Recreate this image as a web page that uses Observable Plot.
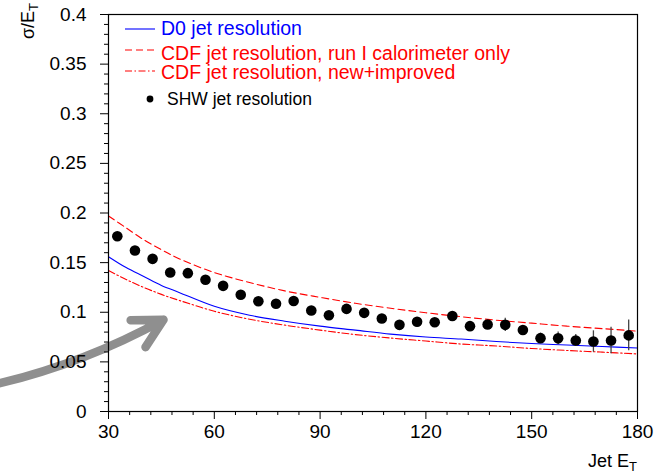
<!DOCTYPE html>
<html><head><meta charset="utf-8">
<script src="https://cdn.jsdelivr.net/npm/d3@7"></script>
<script src="https://cdn.jsdelivr.net/npm/@observablehq/plot@0.6"></script>
<style>html,body{margin:0;padding:0;background:#fff} svg{display:block}</style>
</head><body><div id="chart"></div>
<script>
// ---- data ----
const curveX   = [30,35,40,45,50,60,70,80,90,100,110,120,130,140,150,160,170,180];
const d0Res    = [0.156,0.145,0.136,0.127,0.120,0.106,0.097,0.091,0.086,0.082,0.078,0.075,0.073,0.0705,0.0685,0.067,0.0655,0.064];
const cdfRun1  = [0.197,0.185,0.173,0.163,0.154,0.140,0.130,0.1215,0.115,0.109,0.104,0.0995,0.0955,0.092,0.089,0.086,0.0835,0.081];
const cdfNew   = [0.142,0.133,0.125,0.118,0.112,0.101,0.093,0.087,0.082,0.0775,0.074,0.071,0.068,0.066,0.0635,0.0615,0.0598,0.058];

const shwX   = [32.5,37.5,42.5,47.5,52.5,57.5,62.5,67.5,72.5,77.5,82.5,87.5,92.5,97.5,102.5,107.5,112.5,117.5,122.5,127.5,132.5,137.5,142.5,147.5,152.5,157.5,162.5,167.5,172.5,177.5];
const shwY   = [0.1766,0.1622,0.1538,0.1400,0.1394,0.1327,0.1266,0.1176,0.1111,0.1085,0.1113,0.1018,0.0970,0.1034,0.0994,0.0937,0.0873,0.0905,0.0900,0.0962,0.0860,0.0877,0.0873,0.0821,0.0739,0.0737,0.0715,0.0705,0.0715,0.0767];
const shwErr = [0.002,0.002,0.002,0.002,0.002,0.002,0.002,0.002,0.002,0.002,0.002,0.002,0.002,0.002,0.002,0.0025,0.0025,0.0025,0.003,0.003,0.003,0.004,0.0067,0.004,0.005,0.0064,0.006,0.0108,0.0134,0.0156];

const xTicks = [30,60,90,120,150,180];
const yTicks = [0,0.05,0.1,0.15,0.2,0.25,0.3,0.35,0.4];
const xMinor = d3.range(30,181,6).filter(v => !xTicks.includes(v));
const yMinor = d3.range(0,41,1).map(v => v/100).filter(v => Math.round(v*100)%5 !== 0);

const legendLabels = ["D0 jet resolution","CDF jet resolution, run I calorimeter only","CDF jet resolution, new+improved","SHW jet resolution"];
const legendColors = ["#0000ff","#ff0000","#ff0000","#000000"];
const legendDash   = [null,"7,4","7,2.5,1.5,2.5",null];

// annotation arrow (in data units)
const arrowAnno = [{x1:-3.5, y1:0.0262, x2:45.6, y2:0.0925}];

const FONT = "'Liberation Sans', Arial, Helvetica, sans-serif";

const line = (vals) => curveX.map((x,i) => ({x, y: vals[i]}));
const shw = shwX.map((x,i) => ({x, y: shwY[i], e: shwErr[i]}));

const plot = Plot.plot({
  width: 658, height: 472,
  marginLeft: 108, marginRight: 21, marginTop: 14, marginBottom: 61,
  style: {fontFamily: FONT, fontSize: "19px", color: "black", background: "white"},
  x: {domain: [30,180]},
  y: {domain: [0,0.4]},
  marks: [
    Plot.arrow(arrowAnno, {x1:"x1", y1:"y1", x2:"x2", y2:"y2", stroke:"#8f8f8f", strokeWidth:8.5, bend:-8, headAngle:56, headLength:5.8}),
    Plot.line(line(cdfRun1), {x:"x", y:"y", stroke:"#ff0000", strokeWidth:1.1, strokeDasharray:"7,4", curve:"catmull-rom"}),
    Plot.line(line(cdfNew), {x:"x", y:"y", stroke:"#ff0000", strokeWidth:1.1, strokeDasharray:"7,2.5,1.5,2.5", curve:"catmull-rom"}),
    Plot.line(line(d0Res), {x:"x", y:"y", stroke:"#0000ff", strokeWidth:1.1, curve:"catmull-rom"}),
    Plot.ruleX(shw, {x:"x", y1: d => d.y - d.e, y2: d => d.y + d.e, stroke:"#444", strokeWidth:1.3}),
    Plot.dot(shw, {x:"x", y:"y", r:5.3, fill:"black", stroke:"none"}),
    Plot.axisX({ticks: xMinor, tickSize: 4, tickFormat: () => "", label: null}),
    Plot.axisX({ticks: xTicks, tickSize: 8, tickPadding: 5, tickFormat: d => String(d), label: null, fontSize: 19}),
    Plot.axisY({ticks: yMinor, tickSize: 4, tickFormat: () => "", label: null}),
    Plot.axisY({ticks: yTicks, tickSize: 8, tickPadding: 14, tickFormat: d => d === 0 ? "0" : String(+d.toFixed(2)), label: null, fontSize: 19}),
    Plot.frame({stroke: "black", strokeWidth: 1.2})
  ]
});
document.getElementById("chart").appendChild(plot);

// ---- legend and axis titles ----
const svg = d3.select(plot);
const leg = svg.append("g").attr("font-family", FONT).attr("text-anchor", "start");
const rowY = [29, 50, 71, 99];
const textBase = [34.5, 59.5, 78.5, 105];
legendLabels.forEach((lab, i) => {
  if (i < 3) {
    leg.append("line").attr("x1",125).attr("x2",155).attr("y1",rowY[i]).attr("y2",rowY[i])
      .attr("stroke", legendColors[i]).attr("stroke-width",1.1)
      .attr("stroke-dasharray", legendDash[i]);
    leg.append("text").attr("x",161).attr("y",textBase[i]).attr("font-size",19.5)
      .attr("text-anchor","start").attr("fill", legendColors[i]).text(lab);
  } else {
    leg.append("circle").attr("cx",150).attr("cy",rowY[i]).attr("r",3.4).attr("fill","black");
    leg.append("text").attr("x",167).attr("y",textBase[i]).attr("font-size",17.5)
      .attr("text-anchor","start").attr("fill", legendColors[i]).text(lab);
  }
});

const xl = svg.append("text").attr("x",637).attr("y",467).attr("text-anchor","end")
  .attr("font-family",FONT).attr("font-size",18).attr("fill","black");
xl.append("tspan").text("Jet E");
xl.append("tspan").attr("dy",3.5).attr("font-size",13).text("T");

const yl = svg.append("text").attr("transform","translate(34,3) rotate(-90)").attr("text-anchor","end")
  .attr("font-family",FONT).attr("font-size",18).attr("fill","black");
yl.append("tspan").text("σ/E");
yl.append("tspan").attr("dy",3.5).attr("font-size",13).text("T");
</script>
</body></html>
